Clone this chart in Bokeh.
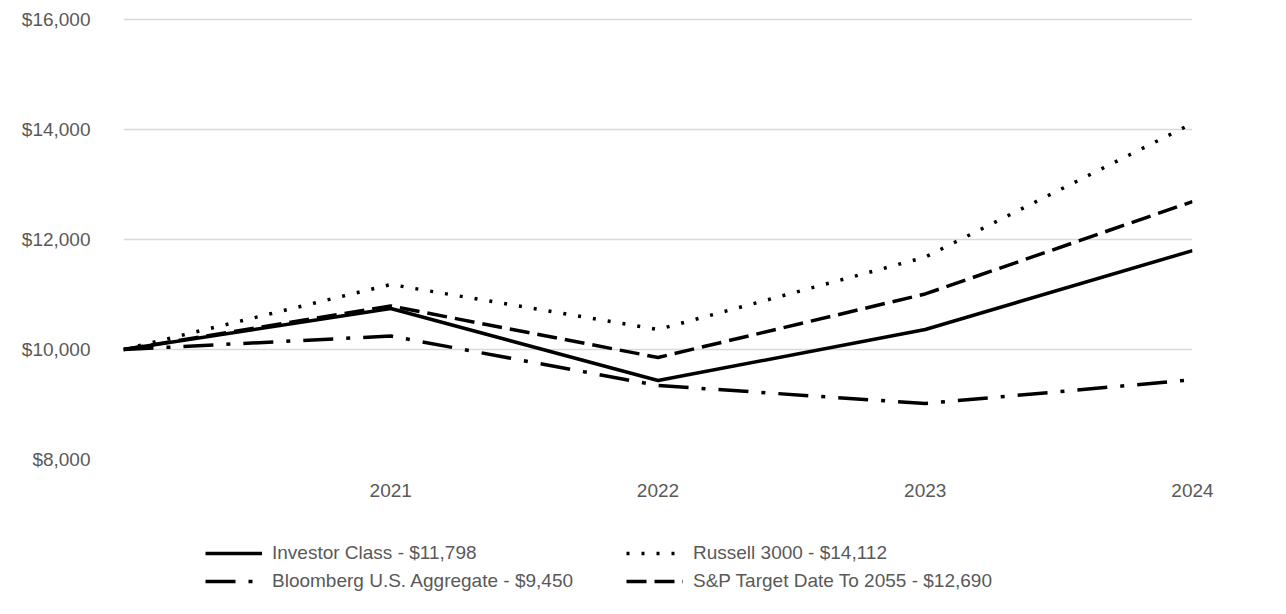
from bokeh.plotting import figure
from bokeh.layouts import column
from bokeh.models import Legend, LegendItem, FixedTicker, NumeralTickFormatter
from bokeh.embed import file_html
from bokeh.resources import INLINE

# ---- data ----
periods = ["", "2021", "2022", "2023", "2024"]
investor = [10000, 10745, 9436, 10364, 11798]
russell = [10000, 11182, 10364, 11680, 14112]
bloomberg = [10000, 10245, 9345, 9018, 9450]
sp2055 = [10000, 10790, 9855, 11010, 12690]
y_ticks = [8000, 10000, 12000, 14000, 16000]

series_names = [
    "Investor Class - $11,798",
    "Russell 3000 - $14,112",
    "Bloomberg U.S. Aggregate - $9,450",
    "S&P Target Date To 2055 - $12,690",
]
series_values = [investor, russell, bloomberg, sp2055]
series_dash = ["solid", "3 12", "30 13 4 13", "20 8"]

FONT = "Liberation Sans"
GRAY = "#595959"
LW = 3.5

xs = list(range(len(periods)))

p = figure(
    frame_width=1069, frame_height=442,
    x_range=(0, len(periods) - 1), y_range=(8000, 16036.4),
    output_backend="svg", toolbar_location=None,
    min_border_left=123, min_border_right=80,
    min_border_top=17, min_border_bottom=60,
)
p.outline_line_color = None
p.background_fill_color = "white"
p.border_fill_color = "white"

for vals, dash in zip(series_values, series_dash):
    p.line(xs, vals, line_color="black", line_width=LW, line_dash=dash)

# axes
p.xaxis.ticker = FixedTicker(ticks=xs)
p.xaxis.major_label_overrides = {i: lab for i, lab in zip(xs, periods)}
p.yaxis.ticker = FixedTicker(ticks=y_ticks)
p.yaxis.formatter = NumeralTickFormatter(format="$0,0")
for ax in (p.xaxis, p.yaxis):
    ax.axis_line_color = None
    ax.major_tick_line_color = None
    ax.minor_tick_line_color = None
    ax.major_label_text_font = FONT
    ax.major_label_text_font_size = "19px"
    ax.major_label_text_color = GRAY
p.yaxis.major_label_standoff = 27
p.xaxis.major_label_standoff = 18

p.xgrid.grid_line_color = None
p.ygrid.grid_line_color = "#d9d9d9"
p.ygrid.grid_line_width = 1.5
p.ygrid.ticker = FixedTicker(ticks=y_ticks)

# ---- legend strip (separate figure; its lines lie outside its view) ----
leg = figure(
    width=1272, height=80,
    x_range=(-20, -10), y_range=(0, 1),
    x_axis_type=None, y_axis_type=None,
    output_backend="svg", toolbar_location=None,
    min_border=0,
)
leg.outline_line_color = None
leg.grid.grid_line_color = None
leg.background_fill_color = "white"
leg.border_fill_color = "white"

items = []
for name, vals, dash in zip(series_names, series_values, series_dash):
    r = leg.line(xs, vals, line_color="black", line_width=LW, line_dash=dash)
    items.append(LegendItem(label=name, renderers=[r]))

legend = Legend(
    items=items,
    orientation="horizontal", ncols=2,
    location=(82, 7),
    glyph_width=57, glyph_height=20,
    label_standoff=10, label_width=348, label_height=20,
    spacing=6, padding=0, margin=0,
    label_text_font=FONT, label_text_font_size="19px", label_text_color=GRAY,
    border_line_color=None, background_fill_alpha=0,
)
leg.add_layout(legend, "center")

layout = column(p, leg, spacing=0)
open("out.html", "w").write(file_html(layout, INLINE))
